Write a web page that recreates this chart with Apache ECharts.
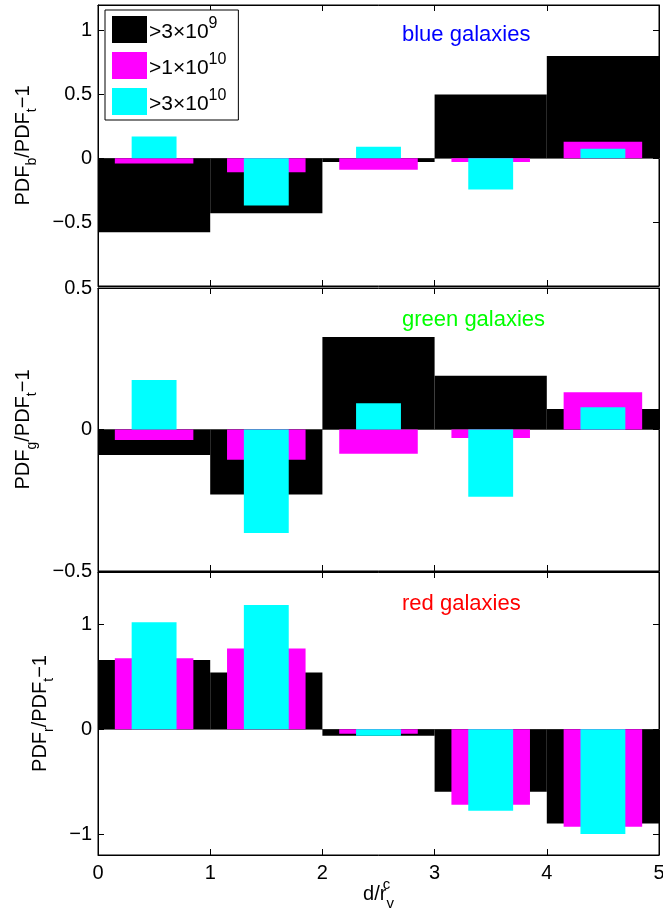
<!DOCTYPE html>
<html>
<head>
<meta charset="utf-8">
<script src="https://cdn.jsdelivr.net/npm/echarts@6/dist/echarts.min.js"></script>
<style>
html,body{margin:0;padding:0;background:#fff;}
#c{width:663px;height:912px;}
</style>
</head>
<body>
<div id="c"></div>
<script>
// ---- data ----
const bins = ['0-1', '1-2', '2-3', '3-4', '4-5'];
const xTickValues = [0, 1, 2, 3, 4, 5];
const seriesNames = ['>3×10^9', '>1×10^10', '>3×10^10'];
const panelTitles = ['blue galaxies', 'green galaxies', 'red galaxies'];
const panelSubs = ['b', 'g', 'r'];

const blueBlack   = [-0.58, -0.43, -0.03, 0.50, 0.80];
const blueMagenta = [-0.04, -0.11, -0.09, -0.03, 0.13];
const blueCyan    = [0.17, -0.37, 0.09, -0.245, 0.075];

const greenBlack   = [-0.09, -0.23, 0.327, 0.19, 0.072];
const greenMagenta = [-0.037, -0.107, -0.086, -0.03, 0.132];
const greenCyan    = [0.175, -0.366, 0.093, -0.238, 0.079];

const redBlack   = [0.66, 0.54, -0.063, -0.597, -0.90];
const redMagenta = [0.676, 0.771, -0.044, -0.72, -0.93];
const redCyan    = [1.02, 1.185, -0.063, -0.778, -1.0];

const yTicksBlue  = [-0.5, 0, 0.5, 1];
const yTicksGreen = [-0.5, 0, 0.5];
const yTicksRed   = [-1, 0, 1];

// ---- layout / style ----
const FONT = 'Liberation Sans, Arial, sans-serif';
const colors = ['#000000', '#ff00ff', '#00ffff'];
const widths = ['100%', '70%', '40%'];
const titleColors = ['#0000ff', '#00ff00', '#ff0000'];
const panels = [
  { top: 5,   height: 281, min: -1,   max: 1.2, ticks: yTicksBlue,  data: [blueBlack, blueMagenta, blueCyan],   gap: 59 },
  { top: 288, height: 283, min: -0.5, max: 0.5, ticks: yTicksGreen, data: [greenBlack, greenMagenta, greenCyan], gap: 59 },
  { top: 572, height: 283, min: -1.2, max: 1.5, ticks: yTicksRed,   data: [redBlack, redMagenta, redCyan],     gap: 42 }
];
const titleTops = [19, 304, 588];

function fmtLegend(name) {
  const m = name.match(/^(.*10)\^(\d+)$/);
  return '{b|' + m[1] + '}{p|' + m[2] + '}';
}

const grids = [], xAxes = [], yAxes = [], series = [], titles = [];
panels.forEach((p, gi) => {
  grids.push({ left: 98, right: 4, top: p.top, height: p.height, show: true, borderColor: '#000', borderWidth: 1, backgroundColor: '#fff', containLabel: false, outerBoundsMode: 'none' });
  const isLast = gi === panels.length - 1;
  // bottom value axis
  xAxes.push({
    type: 'value', gridIndex: gi, min: 0, max: 5, interval: 1, position: 'bottom',
    axisLine: { show: true, onZero: false, lineStyle: { color: '#000', width: 1 } },
    axisTick: { show: true, inside: true, length: 6, lineStyle: { color: '#000' } },
    axisLabel: { show: isLast, color: '#000', fontSize: 20, fontFamily: FONT, margin: 8, hideOverlap: false },
    splitLine: { show: false },
    name: isLast ? '{r|d/r}{c|c}{v|v}' : '',
    nameLocation: 'middle', nameGap: 22, nameMoveOverlap: false,
    nameTextStyle: {
      rich: {
        r: { fontSize: 20, fontFamily: FONT, color: '#000', lineHeight: 34, verticalAlign: 'middle' },
        c: { fontSize: 15, fontFamily: FONT, color: '#000', verticalAlign: 'top', width: 0.01 },
        v: { fontSize: 15, fontFamily: FONT, color: '#000', verticalAlign: 'bottom' }
      }
    }
  });
  // top value axis (ticks only)
  xAxes.push({
    type: 'value', gridIndex: gi, min: 0, max: 5, interval: 1, position: 'top',
    axisLine: { show: true, onZero: false, lineStyle: { color: '#000', width: 1 } },
    axisTick: { show: true, inside: true, length: 6, lineStyle: { color: '#000' } },
    axisLabel: { show: false }, splitLine: { show: false }
  });
  const xBase = xAxes.length;
  // category axes for overlaid bars
  for (let k = 0; k < 3; k++) {
    xAxes.push({
      type: 'category', gridIndex: gi, data: bins, position: 'bottom',
      boundaryGap: true,
      axisLine: { show: k === 0, onZero: true, lineStyle: { color: '#8c8c8c', width: 1 } },
      axisTick: { show: false }, axisLabel: { show: false }, splitLine: { show: false }
    });
  }
  const yLeft = yAxes.length;
  yAxes.push({
    type: 'value', gridIndex: gi, min: p.min, max: p.max, position: 'left',
    axisLine: { show: true, onZero: false, lineStyle: { color: '#000' } },
    axisTick: { show: true, inside: true, length: 6, customValues: p.ticks, lineStyle: { color: '#000' } },
    axisLabel: {
      show: true, customValues: p.ticks, color: '#000', fontSize: 20, fontFamily: FONT, margin: 6,
      formatter: v => (v < 0 ? '\u2212' + String(-v) : String(v))
    },
    splitLine: { show: false },
    name: '{m|PDF}{s|' + panelSubs[gi] + '}{m|/PDF}{s|t}{m|\u22121}',
    nameLocation: 'middle', nameRotate: 90, nameGap: p.gap, nameMoveOverlap: false,
    nameTextStyle: {
      rich: {
        m: { fontSize: 20, fontFamily: FONT, color: '#000', lineHeight: 26, verticalAlign: 'top' },
        s: { fontSize: 14, fontFamily: FONT, color: '#000', verticalAlign: 'bottom' }
      }
    }
  });
  yAxes.push({
    type: 'value', gridIndex: gi, min: p.min, max: p.max, position: 'right',
    axisLine: { show: true, onZero: false, lineStyle: { color: '#000' } },
    axisTick: { show: true, inside: true, length: 6, customValues: p.ticks, lineStyle: { color: '#000' } },
    axisLabel: { show: false }, splitLine: { show: false }
  });
  for (let k = 0; k < 3; k++) {
    series.push({
      type: 'bar', name: seriesNames[k], xAxisIndex: xBase + k, yAxisIndex: yLeft,
      data: p.data[k], barWidth: widths[k],
      itemStyle: { color: colors[k] }, z: 2 + k, silent: true, animation: false
    });
  }
  titles.push({
    text: panelTitles[gi], left: 397, top: titleTops[gi],
    textStyle: { color: titleColors[gi], fontSize: 22, fontWeight: 'normal', fontFamily: FONT }
  });
});

const chart = echarts.init(document.getElementById('c'), null, { renderer: 'canvas' });
chart.setOption({
  animation: false,
  backgroundColor: '#fff',
  title: titles,
  grid: grids,
  xAxis: xAxes,
  yAxis: yAxes,
  legend: {
    data: seriesNames,
    orient: 'vertical', left: 105, top: 10,
    itemWidth: 35, itemHeight: 27, itemGap: 9,
    icon: 'rect',
    backgroundColor: '#fff', borderColor: '#000', borderWidth: 1,
    padding: [6, 12, 5, 7],
    selectedMode: false,
    formatter: fmtLegend,
    textStyle: {
      color: '#000', padding: [0, 0, 0, -3],
      rich: {
        b: { fontSize: 21, fontFamily: FONT, color: '#000', lineHeight: 27, verticalAlign: 'bottom' },
        p: { fontSize: 16, fontFamily: FONT, color: '#000', verticalAlign: 'top' }
      }
    }
  },
  series: series
});
</script>
</body>
</html>
